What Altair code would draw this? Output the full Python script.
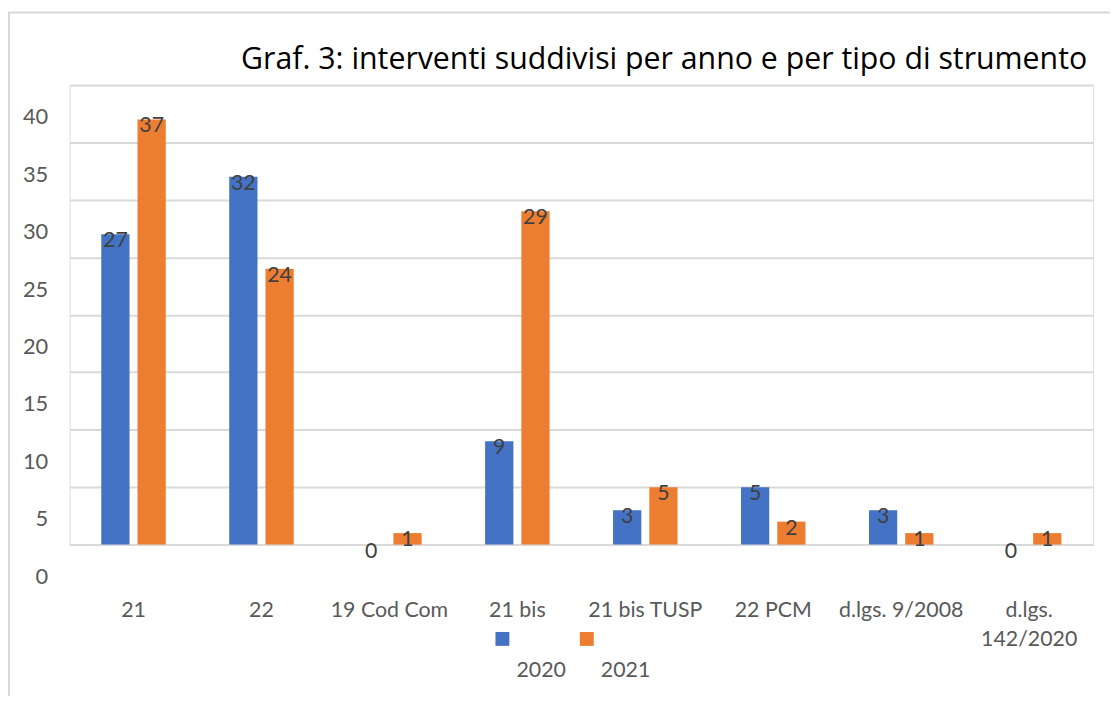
import altair as alt
import pandas as pd

categories = ["21", "22", "19 Cod Com", "21 bis", "21 bis TUSP", "22 PCM",
              "d.lgs. 9/2008", "d.lgs. 142/2020"]
v2020 = [27, 32, 0, 9, 3, 5, 3, 0]
v2021 = [37, 24, 1, 29, 5, 2, 1, 1]
years = ["2020", "2021"]
colors = ["#4472C4", "#ED7D31"]
title_text = "Graf. 3: interventi suddivisi per anno e per tipo di strumento"

rows = []
for c, a, b in zip(categories, v2020, v2021):
    rows.append({"cat": c, "year": "2020", "val": a})
    rows.append({"cat": c, "year": "2021", "val": b})
df = pd.DataFrame(rows)

W, H = 1031, 463
FONT = "Lato"

x_enc = alt.X("cat:N", sort=categories,
              scale=alt.Scale(paddingInner=0.496, paddingOuter=0.248),
              axis=alt.Axis(title=None, domain=False, ticks=False, grid=False,
                            labelAngle=0, labelFontSize=21.5, labelColor="#595959",
                            labelFont=FONT, labelPadding=55, labelBaseline="top",
                            labelLineHeight=30,
                            labelExpr="datum.label == 'd.lgs. 142/2020' ? ['d.lgs.', '142/2020'] : datum.label"))
xo_enc = alt.XOffset("year:N", sort=years,
                     scale=alt.Scale(paddingInner=0.22, paddingOuter=0))
y_enc = alt.Y("val:Q", scale=alt.Scale(domain=[0, 40], nice=False),
              axis=alt.Axis(title=None, domain=False, ticks=False,
                            values=[0, 5, 10, 15, 20, 25, 30, 35, 40],
                            labelFontSize=22, labelColor="#595959", labelFont=FONT,
                            labelPadding=22, labelOffset=32,
                            gridColor="#d9d9d9", gridWidth=2))

base = alt.Chart(df)
bars = base.mark_bar().encode(
    x=x_enc, xOffset=xo_enc, y=y_enc,
    color=alt.Color("year:N", scale=alt.Scale(domain=years, range=colors), legend=None),
)
labels = base.mark_text(dy=7, baseline="middle", fontSize=21.5, font=FONT,
                        color="#404040").encode(
    x=alt.X("cat:N", sort=categories), xOffset=alt.XOffset("year:N", sort=years),
    y="val:Q", text="val:Q",
)

one = pd.DataFrame({"k": [0]})
border = alt.Chart(one).mark_rect(
    fill=None, stroke="#d9d9d9", strokeWidth=2
).encode(x=alt.value(-61), x2=alt.value(W + 60), y=alt.value(-73), y2=alt.value(H + 200))

title = alt.Chart(one).mark_text(
    text=title_text, fontSize=30.5, font="Open Sans", color="#000000",
    align="right", baseline="alphabetic"
).encode(x=alt.value(W - 6), y=alt.value(-16))

layers = [border, bars, labels, title]
for i, (yr, col) in enumerate(zip(years, colors)):
    sq = alt.Chart(one).mark_square(size=196, color=col, opacity=1).encode(
        x=alt.value(436 + 85 * i), y=alt.value(558))
    tx = alt.Chart(one).mark_text(text=yr, fontSize=21.5, font=FONT, color="#595959",
                                  baseline="middle", align="center").encode(
        x=alt.value(475 + 85 * i), y=alt.value(590))
    layers += [sq, tx]

chart = alt.layer(*layers).properties(
    width=W, height=H,
    autosize=alt.AutoSizeParams(type="none"),
    padding={"left": 62, "top": 75, "right": 17, "bottom": 150},
).configure_view(stroke=None).configure(background="white")

chart.save("out.html", embed_options={"renderer": "svg", "actions": False})
